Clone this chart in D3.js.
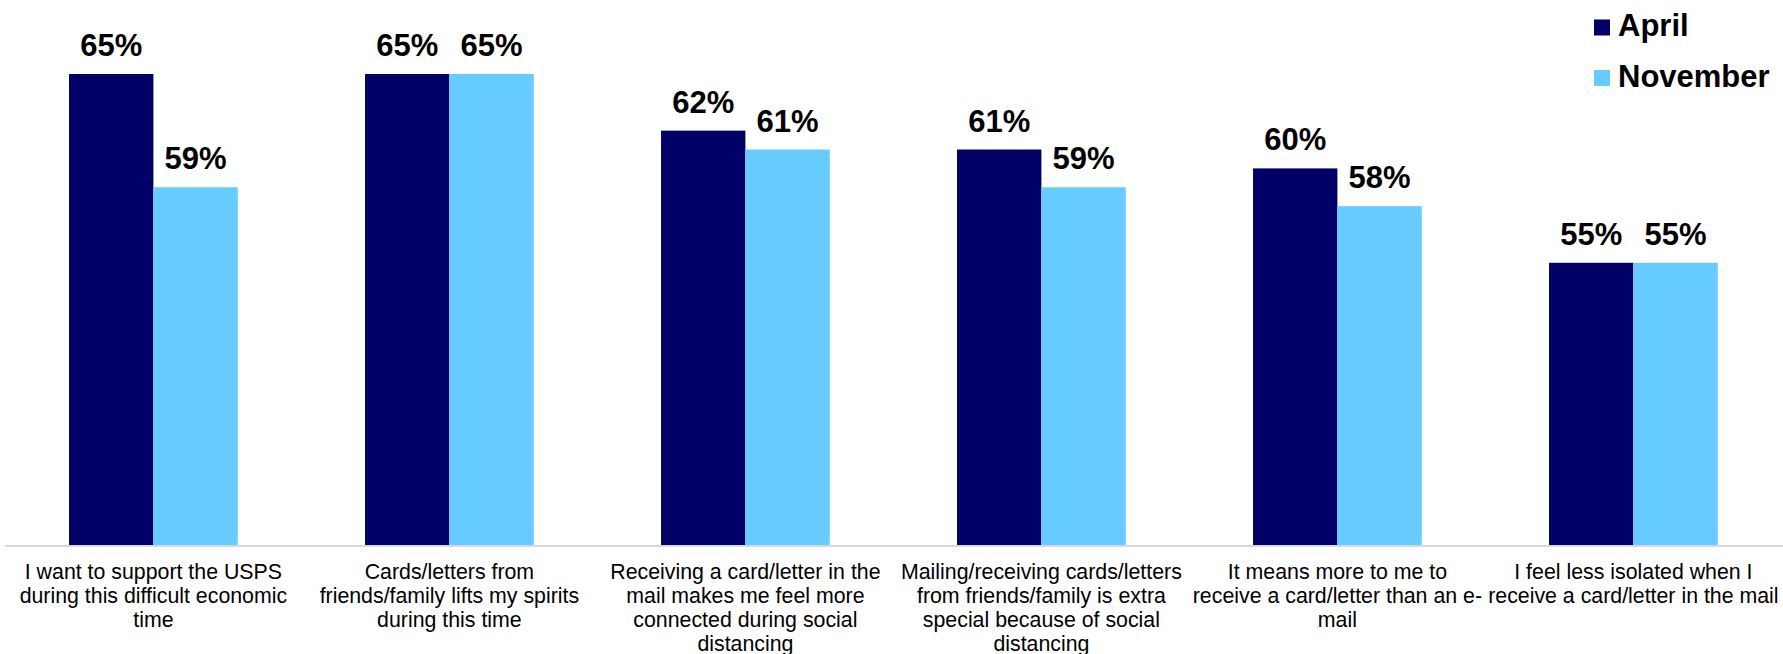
<!DOCTYPE html>
<html><head><meta charset="utf-8">
<script src="https://cdn.jsdelivr.net/npm/d3@7"></script>
<style>html,body{margin:0;padding:0;background:#fff;}</style>
</head><body>
<svg id="c" width="1783" height="654"></svg>
<script>
const categories = [
  "I want to support the USPS during this difficult economic time",
  "Cards/letters from friends/family lifts my spirits during this time",
  "Receiving a card/letter in the mail makes me feel more connected during social distancing",
  "Mailing/receiving cards/letters from friends/family is extra special because of social distancing",
  "It means more to me to receive a card/letter than an e-mail",
  "I feel less isolated when I receive a card/letter in the mail"
];
const categoryLines = [
  ["I want to support the USPS", "during this difficult economic", "time"],
  ["Cards/letters from", "friends/family lifts my spirits", "during this time"],
  ["Receiving a card/letter in the", "mail makes me feel more", "connected during social", "distancing"],
  ["Mailing/receiving cards/letters", "from friends/family is extra", "special because of social", "distancing"],
  ["It means more to me to", "receive a card/letter than an e-", "mail"],
  ["I feel less isolated when I", "receive a card/letter in the mail"]
];
const seriesNames = ["April", "November"];
const april = [65, 65, 62, 61, 60, 55];
const november = [59, 65, 61, 59, 58, 55];
const colors = ["#000066", "#66CCFF"];

const svg = d3.select("#c");
const values = [april, november];
const FONT = "Liberation Sans, Arial, sans-serif";

const x0 = d3.scaleBand().domain(categories).range([5.4, 1781.4]).paddingInner(0.43).paddingOuter(0.215);
const x1 = d3.scaleBand().domain(seriesNames).range([0, x0.bandwidth()]);
const y = d3.scaleLinear().domain([40, 65]).range([546, 74]);

const g = svg.append("g");
categories.forEach((c, i) => {
  const grp = g.append("g").attr("transform", `translate(${x0(c)},0)`);
  seriesNames.forEach((s, j) => {
    const v = values[j][i];
    grp.append("rect")
      .attr("x", x1(s)).attr("width", x1.bandwidth())
      .attr("y", y(v)).attr("height", y(40) - y(v))
      .attr("fill", colors[j]);
    grp.append("text")
      .attr("x", x1(s) + x1.bandwidth() / 2)
      .attr("y", y(v) - 18)
      .attr("text-anchor", "middle")
      .attr("font-family", FONT)
      .attr("font-weight", "bold")
      .attr("font-size", 31)
      .attr("fill", "#000")
      .text(v + "%");
  });
});

// baseline axis
const xAxis = d3.axisBottom(x0).tickSize(0).tickFormat("");
const ax = svg.append("g").attr("transform", `translate(0,${y(40)})`).call(xAxis);
ax.select(".domain").attr("stroke", "#d9d9d9").attr("stroke-width", 2).attr("d", "M5,0H1783");

// category labels
categories.forEach((c, i) => {
  const t = svg.append("text")
    .attr("text-anchor", "middle")
    .attr("font-family", FONT)
    .attr("font-size", 21.33)
    .attr("fill", "#000");
  categoryLines[i].forEach((ln, k) => {
    t.append("tspan").attr("x", x0(c) + x0.bandwidth() / 2).attr("y", 579.3 + k * 24).text(ln);
  });
});

// legend
const leg = svg.append("g");
seriesNames.forEach((s, j) => {
  leg.append("rect").attr("x", 1594).attr("y", 19.5 + j * 50.5).attr("width", 16).attr("height", 16).attr("fill", colors[j]);
  leg.append("text").attr("x", 1618).attr("y", 36 + j * 51)
    .attr("font-family", FONT)
    .attr("font-weight", "bold").attr("font-size", 31).attr("fill", "#000").text(s);
});
</script>
</body></html>
